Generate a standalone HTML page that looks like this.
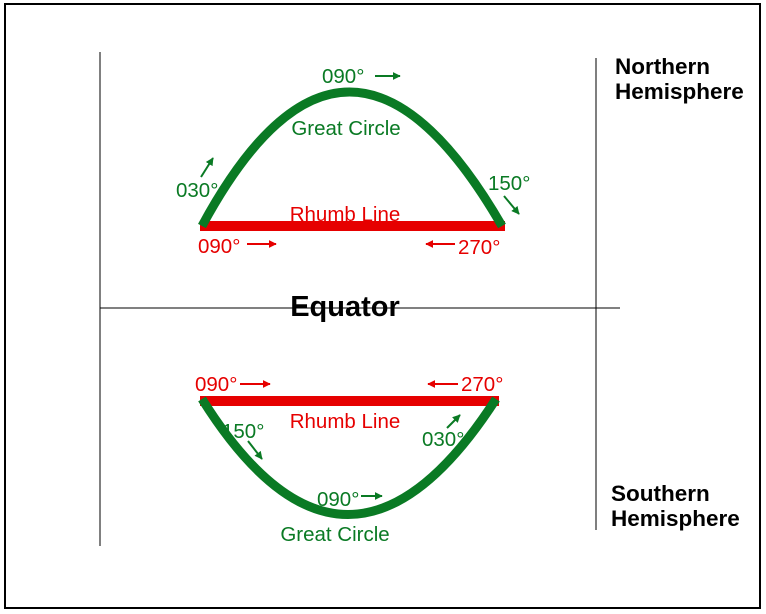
<!DOCTYPE html>
<html><head><meta charset="utf-8"><style>
html,body{margin:0;padding:0;background:#fff;width:766px;height:614px;overflow:hidden}
svg text{font-family:"Liberation Sans",Arial,sans-serif}
.g{fill:#0a7a24;font-size:20.5px}
.r{fill:#e60000;font-size:20.5px}
.k{fill:#000;font-size:22.5px;font-weight:bold}
</style></head><body>
<svg width="766" height="614" viewBox="0 0 766 614">
<defs>
<marker id="ag" viewBox="0 0 10 10" refX="9" refY="5" markerWidth="4" markerHeight="4" orient="auto"><path d="M0,0L10,5L0,10z" fill="#0a7a24"/></marker>
<marker id="ar" viewBox="0 0 10 10" refX="9" refY="5" markerWidth="4" markerHeight="4" orient="auto"><path d="M0,0L10,5L0,10z" fill="#e60000"/></marker>
</defs>
<rect x="5" y="4" width="755" height="604" fill="none" stroke="#000" stroke-width="2"/>
<line x1="100" y1="52" x2="100" y2="546" stroke="#000" stroke-width="1"/>
<line x1="596" y1="58" x2="596" y2="530" stroke="#555" stroke-width="1.5"/>
<text x="345" y="316" text-anchor="middle" style="font-size:29px;font-weight:bold">Equator</text>
<line x1="100" y1="308" x2="620" y2="308" stroke="#000" stroke-width="1"/>

<!-- Northern -->
<line x1="200" y1="226" x2="505" y2="226" stroke="#e60000" stroke-width="10"/>
<path d="M202,226 Q347,-42 502,226" fill="none" stroke="#0a7a24" stroke-width="9"/>
<text class="g" x="322" y="83">090°</text>
<line x1="375" y1="76" x2="400" y2="76" stroke="#0a7a24" stroke-width="2" marker-end="url(#ag)"/>
<text class="g" x="346" y="135" text-anchor="middle">Great Circle</text>
<text class="g" x="176" y="197">030°</text>
<line x1="201" y1="177" x2="213" y2="158" stroke="#0a7a24" stroke-width="2" marker-end="url(#ag)"/>
<text class="g" x="488" y="190">150°</text>
<line x1="504" y1="196" x2="519" y2="214" stroke="#0a7a24" stroke-width="2" marker-end="url(#ag)"/>
<text class="r" x="345" y="221" text-anchor="middle">Rhumb Line</text>
<text class="r" x="198" y="253">090°</text>
<line x1="247" y1="244" x2="276" y2="244" stroke="#e60000" stroke-width="2" marker-end="url(#ar)"/>
<line x1="455" y1="244" x2="426" y2="244" stroke="#e60000" stroke-width="2" marker-end="url(#ar)"/>
<text class="r" x="458" y="254">270°</text>

<!-- Southern -->
<line x1="200" y1="401" x2="499" y2="401" stroke="#e60000" stroke-width="10"/>
<path d="M202,399 Q347,630 496,399" fill="none" stroke="#0a7a24" stroke-width="9"/>
<text class="r" x="195" y="391">090°</text>
<line x1="240" y1="384" x2="270" y2="384" stroke="#e60000" stroke-width="2" marker-end="url(#ar)"/>
<line x1="458" y1="384" x2="428" y2="384" stroke="#e60000" stroke-width="2" marker-end="url(#ar)"/>
<text class="r" x="461" y="391">270°</text>
<text class="r" x="345" y="428" text-anchor="middle">Rhumb Line</text>
<text class="g" x="222" y="438">150°</text>
<line x1="248" y1="441" x2="262" y2="459" stroke="#0a7a24" stroke-width="2" marker-end="url(#ag)"/>
<text class="g" x="422" y="446">030°</text>
<line x1="447" y1="428" x2="460" y2="415" stroke="#0a7a24" stroke-width="2" marker-end="url(#ag)"/>
<text class="g" x="317" y="506">090°</text>
<line x1="361" y1="496" x2="382" y2="496" stroke="#0a7a24" stroke-width="2" marker-end="url(#ag)"/>
<text class="g" x="335" y="541" text-anchor="middle">Great Circle</text>

<text class="k" x="615" y="74">Northern</text>
<text class="k" x="615" y="99">Hemisphere</text>
<text class="k" x="611" y="501">Southern</text>
<text class="k" x="611" y="526">Hemisphere</text>
</svg>
</body></html>
